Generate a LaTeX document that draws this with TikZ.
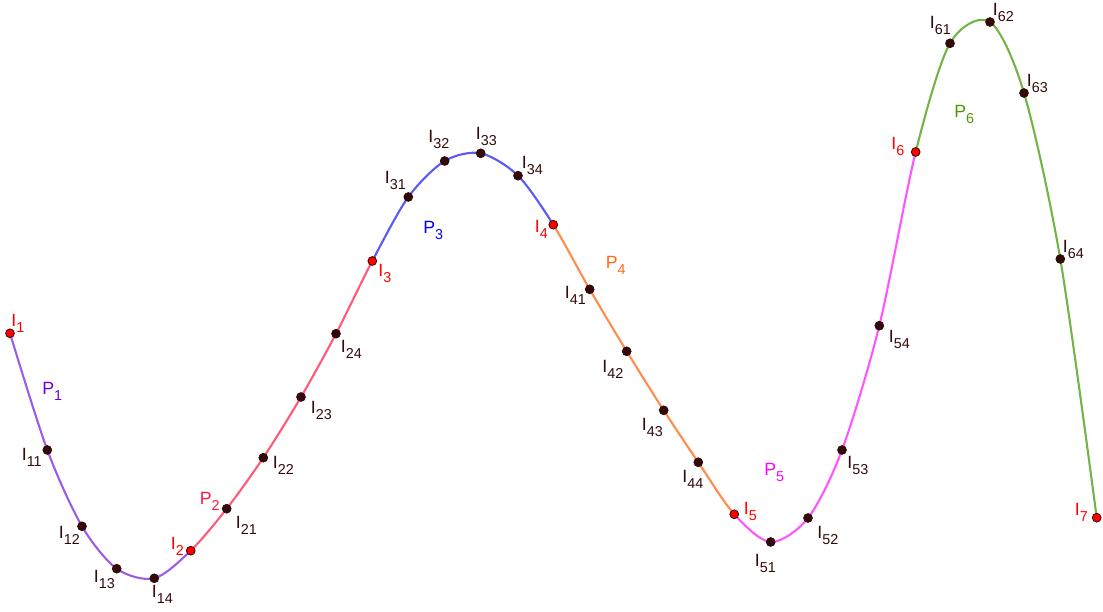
\documentclass[tikz,border=0pt]{standalone}
\usepackage{fontspec}
\setmainfont{Liberation Sans}
\usepackage{xcolor}
\definecolor{curveOne}{HTML}{9B5DE5}
\definecolor{curveTwo}{HTML}{FF5A78}
\definecolor{curveThree}{HTML}{5A5AF5}
\definecolor{curveFour}{HTML}{FF8C4B}
\definecolor{curveFive}{HTML}{FF55FF}
\definecolor{curveSix}{HTML}{72B446}
\definecolor{labOne}{HTML}{7000D0}
\definecolor{labTwo}{HTML}{FF1744}
\definecolor{labThree}{HTML}{0000FF}
\definecolor{labFour}{HTML}{FF6A1A}
\definecolor{labFive}{HTML}{FF00FF}
\definecolor{labSix}{HTML}{4C9A00}
\definecolor{ptDark}{HTML}{330A0A}
\definecolor{ptRed}{HTML}{FF0000}
\newcommand{\idx}[1]{\raisebox{-3bp}{\fontsize{7.2}{8}\selectfont #1}}

\begin{document}
\begin{tikzpicture}[
  x=0.5bp, y=-0.5bp,
  every node/.style={font=\fontsize{8.9}{10}\selectfont},
  curve/.style={#1, line width=1.05bp, line join=round},
  knot/.style={circle, inner sep=0pt, minimum size=4.4bp, draw=ptDark,
    line width=0.4bp, fill=#1},
  ilab/.style={inner sep=0pt, anchor=base west, text=#1},
  ilab/.default=ptDark,
  plab/.style={inner sep=0pt, anchor=base west, text=#1},
]
\useasboundingbox (0,0) rectangle (1103,612);

% ======= Points on the curve =======
\coordinate (I1) at (10,333.3);
\coordinate (I11) at (47.3,450);
\coordinate (I12) at (82,526.3);
\coordinate (I13) at (116.7,568.7);
\coordinate (I14) at (154.3,578.3);
\coordinate (I2) at (190.7,550.7);
\coordinate (I21) at (226.7,508.7);
\coordinate (I22) at (263.3,457.7);
\coordinate (I23) at (301,397);
\coordinate (I24) at (336,333.7);
\coordinate (I3) at (372.3,261);
\coordinate (I31) at (408.3,197);
\coordinate (I32) at (444.7,161);
\coordinate (I33) at (480.7,153.3);
\coordinate (I34) at (518,175.7);
\coordinate (I4) at (553.3,224.7);
\coordinate (I41) at (589.7,289.3);
\coordinate (I42) at (626.7,351.3);
\coordinate (I43) at (663.7,410.3);
\coordinate (I44) at (698.3,462.3);
\coordinate (I5) at (734.3,514.3);
\coordinate (I51) at (770.7,542);
\coordinate (I52) at (808,518);
\coordinate (I53) at (842,450);
\coordinate (I54) at (879.3,325.7);
\coordinate (I6) at (915.7,152);
\coordinate (I61) at (950,43.3);
\coordinate (I62) at (990,22);
\coordinate (I63) at (1024,93);
\coordinate (I64) at (1060.3,259);
\coordinate (I7) at (1096.7,517.7);

% ======= Curve, one colour per piece =======
\foreach \xa/\xb/\col in {0/190.7/curveOne, 190.7/372.3/curveTwo,
    372.3/553.3/curveThree, 553.3/734.3/curveFour,
    734.3/915.7/curveFive, 915.7/1103/curveSix} {
  \begin{scope}
    \clip (\xa,0) rectangle (\xb,612);
    \draw[curve=\col] plot[smooth] coordinates {(I1) (I11) (I12) (I13) (I14)
      (I2) (I21) (I22) (I23) (I24) (I3) (I31) (I32) (I33) (I34)
      (I4) (I41) (I42) (I43) (I44) (I5) (I51) (I52) (I53) (I54)
      (I6) (I61) (I62) (I63) (I64) (I7)};
  \end{scope}
}

% ======= Knots =======
\foreach \p in {I11,I12,I13,I14,I21,I22,I23,I24,I31,I32,I33,I34,
    I41,I42,I43,I44,I51,I52,I53,I54,I61,I62,I63,I64}
  \node[knot=ptDark] (k\p) at (\p) {};
\foreach \p in {I1,I2,I3,I4,I5,I6,I7}
  \node[knot=ptRed] (k\p) at (\p) {};

% ======= Piece labels =======
\node[plab=labOne] (pP1) at (42,395) {P\idx{1}};
\node[plab=labTwo] (pP2) at (199.5,505) {P\idx{2}};
\node[plab=labThree] (pP3) at (423,234) {P\idx{3}};
\node[plab=labFour] (pP4) at (605.5,269) {P\idx{4}};
\node[plab=labFive] (pP5) at (764,476) {P\idx{5}};
\node[plab=labSix] (pP6) at (954,117.5) {P\idx{6}};

% ======= Knot labels =======
\node[ilab=ptRed] (lI1) at (11,327) {I\idx{1}};
\node[ilab] (lI11) at (21.5,461) {I\idx{11}};
\node[ilab] (lI12) at (58.5,539) {I\idx{12}};
\node[ilab] (lI13) at (93.5,583) {I\idx{13}};
\node[ilab] (lI14) at (151.5,597.5) {I\idx{14}};
\node[ilab=ptRed] (lI2) at (170.5,549.5) {I\idx{2}};
\node[ilab] (lI21) at (235.5,529) {I\idx{21}};
\node[ilab] (lI22) at (272.5,469) {I\idx{22}};
\node[ilab] (lI23) at (310.5,414) {I\idx{23}};
\node[ilab] (lI24) at (340.5,352.5) {I\idx{24}};
\node[ilab=ptRed] (lI3) at (378,276.5) {I\idx{3}};
\node[ilab] (lI31) at (384.5,184) {I\idx{31}};
\node[ilab] (lI32) at (428,143) {I\idx{32}};
\node[ilab] (lI33) at (475.5,140) {I\idx{33}};
\node[ilab] (lI34) at (521.5,169) {I\idx{34}};
\node[ilab=ptRed] (lI4) at (534.5,232.5) {I\idx{4}};
\node[ilab] (lI41) at (564.5,299) {I\idx{41}};
\node[ilab] (lI42) at (602,372.5) {I\idx{42}};
\node[ilab] (lI43) at (641.5,431) {I\idx{43}};
\node[ilab] (lI44) at (682,482.5) {I\idx{44}};
\node[ilab=ptRed] (lI5) at (743.5,515) {I\idx{5}};
\node[ilab] (lI51) at (754.5,566.5) {I\idx{51}};
\node[ilab] (lI52) at (817,538.5) {I\idx{52}};
\node[ilab] (lI53) at (847,468.5) {I\idx{53}};
\node[ilab] (lI54) at (888.5,342.7) {I\idx{54}};
\node[ilab=ptRed] (lI6) at (891,150) {I\idx{6}};
\node[ilab] (lI61) at (929.5,29) {I\idx{61}};
\node[ilab] (lI62) at (992.5,16) {I\idx{62}};
\node[ilab] (lI63) at (1026.5,86.5) {I\idx{63}};
\node[ilab] (lI64) at (1062.5,253) {I\idx{64}};
\node[ilab=ptRed] (lI7) at (1074.5,516) {I\idx{7}};

\end{tikzpicture}
\end{document}
